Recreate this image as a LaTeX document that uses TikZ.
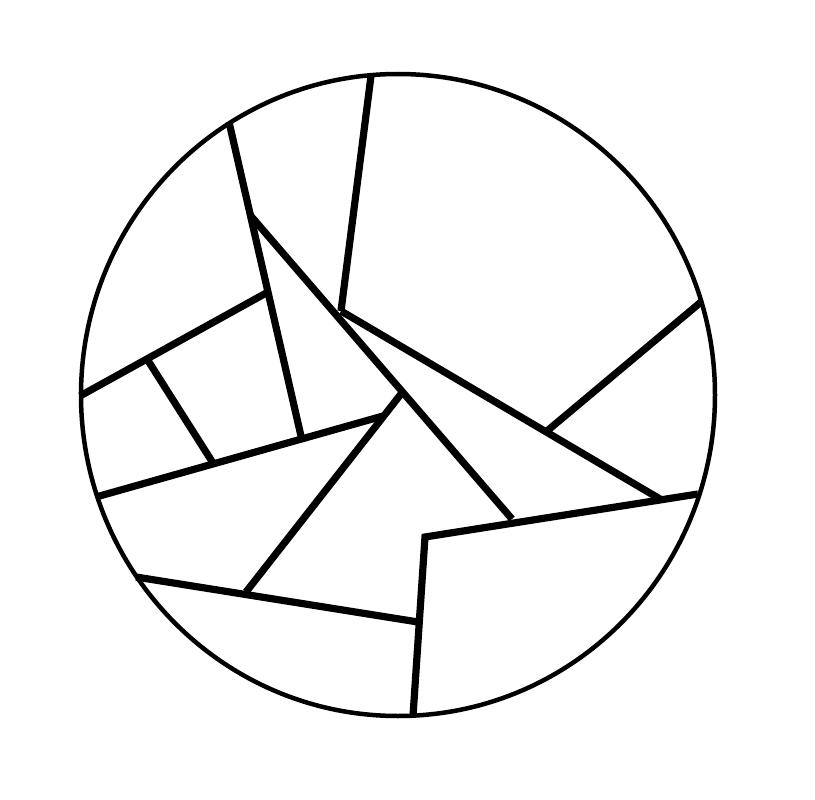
\documentclass[tikz,border=0pt]{standalone}
\begin{document}
\begin{tikzpicture}[x=1pt,y=-1pt,
  chord/.style={line width=7.2pt, line join=miter, black},
  rim/.style={line width=4.5pt, black}]
\useasboundingbox (0,0) rectangle (815,800);
\fill[white] (0,0) rectangle (815,800);
\coordinate (O) at (398,395);
\draw[rim] (O) ellipse [x radius=317, y radius=321];
\coordinate (A1) at (229,122); \coordinate (A2) at (301,436);
\coordinate (B1) at (371,76);  \coordinate (B2) at (341,311);
\coordinate (C1) at (250,215); \coordinate (C2) at (512,519);
\coordinate (D1) at (341,311); \coordinate (D2) at (660,499);
\coordinate (E1) at (547,431); \coordinate (E2) at (701,302);
\coordinate (F1) at (425,537); \coordinate (F2) at (698,494);
\coordinate (G2) at (413,716);
\coordinate (H1) at (136,577); \coordinate (H2) at (418,622);
\coordinate (I1) at (401,394); \coordinate (I2) at (246,592);
\coordinate (J1) at (96,497);  \coordinate (J2) at (383,416);
\coordinate (K1) at (80,396);  \coordinate (K2) at (268,292);
\coordinate (L1) at (147,359); \coordinate (L2) at (213,463);
\draw[chord] (A1) -- (A2);
\draw[chord] (B1) -- (B2);
\draw[chord] (C1) -- (C2);
\draw[chord] (D1) -- (D2);
\draw[chord] (E1) -- (E2);
\draw[chord] (F2) -- (F1) -- (G2);
\draw[chord] (H1) -- (H2);
\draw[chord] (I1) -- (I2);
\draw[chord] (J1) -- (J2);
\draw[chord] (K1) -- (K2);
\draw[chord] (L1) -- (L2);
\end{tikzpicture}
\end{document}
